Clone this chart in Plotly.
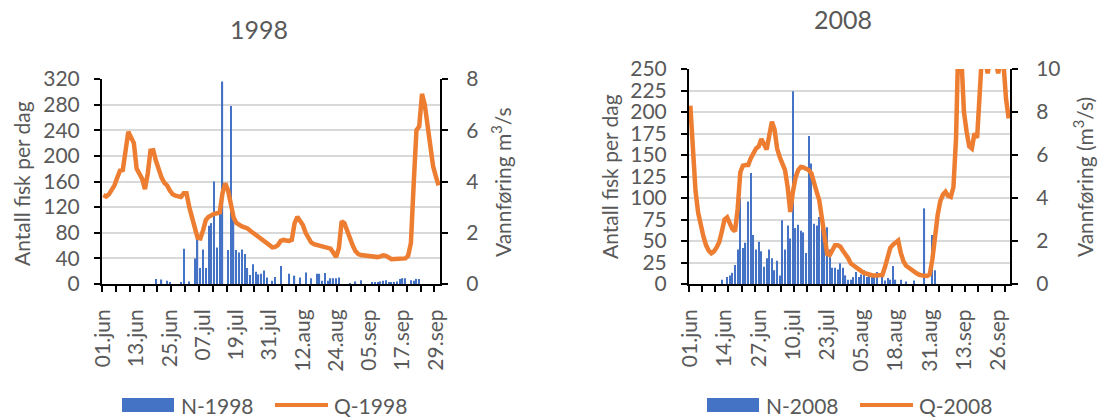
import numpy as np
import plotly.graph_objects as go

W, H = 1098, 417
FONT = "Lato"
TXT = "#595959"
BLUE = "#4472C4"
ORANGE = "#ED7D31"

# ---- 1998: daily fish counts (N) and discharge (Q, m3/s), 01.jun - 30.sep ----
n_1998 = [
    0, 0, 0, 0, 0, 0, 0, 0, 0, 0,
    0, 0, 0, 0, 0, 0, 0, 0, 0, 8,
    0, 7, 0, 5, 3, 0, 0, 0, 2, 55,
    0, 4, 0, 40, 74, 25, 54, 25, 91, 95,
    160, 57, 120, 316, 0, 53, 278, 101, 53, 49,
    54, 47, 25, 14, 31, 19, 15, 16, 21, 10,
    0, 5, 11, 0, 28, 0, 0, 16, 0, 13,
    0, 10, 0, 18, 0, 9, 0, 16, 16, 5,
    17, 5, 9, 9, 9, 10, 0, 0, 0, 1,
    0, 4, 0, 6, 0, 0, 0, 2, 2, 3,
    4, 5, 6, 2, 2, 2, 4, 8, 9, 9,
    0, 6, 5, 8, 8, 0, 0, 0, 0, 0,
    0, 0,
]
q_1998 = [
    3.47, 3.41, 3.50, 3.70, 3.85, 4.15, 4.42, 4.45, 5.30, 5.94,
    5.72, 5.50, 4.50, 4.30, 4.10, 3.70, 4.30, 5.20, 5.22, 4.80,
    4.40, 4.15, 3.95, 3.85, 3.65, 3.50, 3.45, 3.42, 3.40, 3.54,
    3.54, 3.00, 2.50, 2.20, 1.80, 1.78, 2.10, 2.50, 2.62, 2.69,
    2.74, 2.76, 2.80, 3.55, 3.93, 3.65, 3.10, 2.60, 2.38, 2.30,
    2.25, 2.21, 2.17, 2.08, 2.00, 1.91, 1.82, 1.74, 1.66, 1.58,
    1.50, 1.43, 1.45, 1.52, 1.68, 1.72, 1.70, 1.68, 1.72, 2.37,
    2.62, 2.45, 2.30, 2.00, 1.80, 1.62, 1.55, 1.52, 1.47, 1.43,
    1.42, 1.40, 1.38, 1.22, 1.05, 1.40, 2.45, 2.37, 2.05, 1.75,
    1.50, 1.28, 1.17, 1.13, 1.11, 1.09, 1.07, 1.06, 1.05, 1.05,
    1.08, 1.12, 1.10, 1.04, 0.97, 0.98, 0.99, 0.99, 0.98, 1.00,
    1.10, 1.60, 3.90, 6.00, 6.15, 7.42, 7.00, 6.25, 5.55, 4.60,
    4.20, 3.85,
]
ticks_1998 = ["01.jun", "13.jun", "25.jun", "07.jul", "19.jul", "31.jul",
              "12.aug", "24.aug", "05.sep", "17.sep", "29.sep"]
tickpos_1998 = [0, 12, 24, 36, 48, 60, 72, 84, 96, 108, 120]

# ---- 2008 ----
n_2008 = [
    0, 0, 0, 0, 0, 0, 0, 0, 0, 0,
    0, 0, 5, 0, 8, 10, 13, 22, 40, 100,
    42, 48, 96, 129, 57, 40, 49, 38, 20, 30,
    40, 30, 16, 27, 10, 74, 40, 68, 53, 224,
    65, 69, 62, 60, 36, 172, 140, 70, 68, 78,
    71, 61, 66, 40, 19, 19, 17, 24, 19, 10,
    5, 5, 8, 14, 8, 11, 16, 8, 12, 12,
    8, 14, 0, 14, 4, 7, 5, 21, 5, 0,
    5, 0, 3, 0, 0, 4, 0, 0, 0, 88,
    0, 0, 57, 16, 0, 0, 0, 0, 0, 0,
    0, 0, 0, 0, 0, 0, 0, 0, 0, 0,
    0, 0, 0, 0, 0, 0, 0, 0, 0, 0,
    0, 0,
]
q_2008 = [
    8.30, 6.30, 4.30, 3.30, 2.65, 2.20, 1.80, 1.55, 1.43, 1.52,
    1.70, 1.95, 2.45, 3.00, 3.10, 2.85, 2.55, 2.45, 3.50, 5.20,
    5.50, 5.53, 5.53, 5.85, 6.10, 6.30, 6.40, 6.75, 6.50, 6.25,
    6.90, 7.55, 7.20, 6.30, 5.90, 5.62, 5.30, 4.50, 3.35, 4.30,
    4.95, 5.30, 5.44, 5.42, 5.38, 5.30, 5.15, 4.80, 4.30, 3.90,
    3.10, 2.00, 1.40, 1.35, 1.60, 1.80, 1.80, 1.74, 1.55, 1.40,
    1.20, 0.95, 0.85, 0.75, 0.68, 0.60, 0.52, 0.47, 0.43, 0.41,
    0.40, 0.39, 0.40, 0.42, 0.80, 1.30, 1.68, 1.82, 1.90, 2.02,
    1.45, 1.05, 0.85, 0.75, 0.67, 0.56, 0.50, 0.43, 0.39, 0.38,
    0.37, 0.45, 1.15, 2.40, 3.20, 3.85, 4.15, 4.29, 4.10, 4.05,
    4.50, 6.80, 12.0, 10.6, 8.00, 7.10, 6.40, 6.30, 7.00, 6.80,
    9.00, 11.0, 10.5, 9.80, 10.6, 11.0, 10.4, 9.80, 10.4, 10.3,
    8.60, 7.70,
]
ticks_2008 = ["01.jun", "14.jun", "27.jun", "10.jul", "23.jul", "05.aug",
              "18.aug", "31.aug", "13.sep", "26.sep"]
tickpos_2008 = [0, 13, 26, 39, 52, 65, 78, 91, 104, 117]

day_1998 = np.arange(len(n_1998))
day_2008 = np.arange(len(n_2008))


def px(x):
    return x / W


def py(y):
    return 1 - y / H


fig = go.Figure()
fig.add_trace(go.Bar(x=day_1998, y=n_1998, name="N-1998", marker_color=BLUE,
                     marker_line_width=0, xaxis="x", yaxis="y"))
fig.add_trace(go.Scatter(x=day_1998, y=q_1998, name="Q-1998", mode="lines",
                         line=dict(color=ORANGE, width=4.5), xaxis="x", yaxis="y2"))
fig.add_trace(go.Bar(x=day_2008, y=n_2008, name="N-2008", marker_color=BLUE,
                     marker_line_width=0, xaxis="x2", yaxis="y3"))
fig.add_trace(go.Scatter(x=day_2008, y=q_2008, name="Q-2008", mode="lines",
                         line=dict(color=ORANGE, width=4.5), xaxis="x2", yaxis="y4"))

tickfont = dict(family=FONT, size=21, color=TXT)


def xaxis(domain, anchor, tickvals, ticktext, n):
    return dict(
        domain=domain, anchor=anchor, range=[-0.5, n - 0.5],
        tickmode="array", tickvals=tickvals, ticktext=ticktext, tickangle=-90,
        tickfont=tickfont, ticks="", ticklabelstandoff=15,
        showline=True, linecolor="black", linewidth=2, showgrid=False,
        zeroline=False, automargin=False,
        minor=dict(tickmode="linear", tick0=-0.5, dtick=5, ticks="outside",
                   ticklen=6, tickwidth=2, tickcolor="black", showgrid=False),
    )


def yleft(domain, anchor, top, step):
    return dict(
        domain=domain, anchor=anchor, range=[0, top], dtick=step, tick0=0,
        tickfont=tickfont, ticks="outside", ticklen=6, tickwidth=2,
        tickcolor="black", ticklabelstandoff=10,
        showline=True, linecolor="black", linewidth=2,
        showgrid=True, gridcolor="#D9D9D9", gridwidth=1.5,
        zeroline=False, automargin=False,
    )


def yright(overlay, anchor, top):
    return dict(
        overlaying=overlay, anchor=anchor, side="right", range=[0, top],
        dtick=2, tick0=0, tickfont=tickfont, ticks="outside", ticklen=6,
        tickwidth=2, tickcolor="black", ticklabelstandoff=14,
        showline=True, linecolor="black", linewidth=2, showgrid=False,
        zeroline=False, automargin=False,
    )


dom_x1 = [px(102), px(440)]
dom_y1 = [py(284), py(79)]
dom_x2 = [px(689), px(1010)]
dom_y2 = [py(284), py(69)]

annotations = [
    dict(text="1998", x=px(259), y=py(29)),
    dict(text="2008", x=px(843), y=py(19)),
]
for a in annotations:
    a.update(xref="paper", yref="paper", showarrow=False, xanchor="center",
             yanchor="middle", font=dict(family=FONT, size=25, color=TXT))

axis_titles = [
    ("Antall fisk per dag", 22, 184),
    ("Vannføring m<sup>3</sup>/s", 501, 182),
    ("Antall fisk per dag", 609, 177),
    ("Vannføring (m<sup>3</sup>/s)", 1083, 177),
]
for text, x, y in axis_titles:
    annotations.append(dict(text=text, x=px(x), y=py(y), xref="paper", yref="paper",
                            showarrow=False, textangle=-90, xanchor="center",
                            yanchor="middle",
                            font=dict(family=FONT, size=21, color=TXT)))

# legend entries drawn under each panel
shapes = []
legend_items = [
    ("N-1998", "bar", 122, 174, 179),
    ("Q-1998", "line", 275, 328, 332),
    ("N-2008", "bar", 707, 759, 764),
    ("Q-2008", "line", 860, 913, 917),
]
LEG_Y = 405
for label, kind, x0, x1, xt in legend_items:
    if kind == "bar":
        shapes.append(dict(type="rect", xref="paper", yref="paper",
                           x0=px(x0), x1=px(x1), y0=py(LEG_Y + 7), y1=py(LEG_Y - 7),
                           fillcolor=BLUE, line=dict(width=0)))
    else:
        shapes.append(dict(type="line", xref="paper", yref="paper",
                           x0=px(x0), x1=px(x1), y0=py(LEG_Y), y1=py(LEG_Y),
                           line=dict(color=ORANGE, width=4)))
    annotations.append(dict(text=label, x=px(xt), y=py(LEG_Y), xref="paper",
                            yref="paper", showarrow=False, xanchor="left",
                            yanchor="middle",
                            font=dict(family=FONT, size=21, color=TXT)))

fig.update_layout(
    width=W, height=H,
    margin=dict(l=0, r=0, t=0, b=0),
    paper_bgcolor="white", plot_bgcolor="white",
    showlegend=False,
    bargap=0.55,
    font=dict(family=FONT, color=TXT),
    xaxis=xaxis(dom_x1, "y", tickpos_1998, ticks_1998, len(n_1998)),
    yaxis=yleft(dom_y1, "x", 320, 40),
    yaxis2=yright("y", "x", 8),
    xaxis2=xaxis(dom_x2, "y3", tickpos_2008, ticks_2008, len(n_2008)),
    yaxis3=yleft(dom_y2, "x2", 250, 25),
    yaxis4=yright("y3", "x2", 10),
    annotations=annotations,
    shapes=shapes,
)

fig.write_html("out.html")
